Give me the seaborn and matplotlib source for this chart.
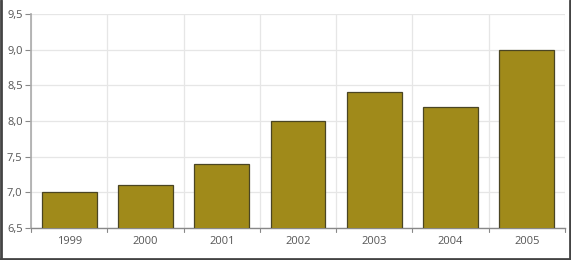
import matplotlib
matplotlib.use("Agg")
import matplotlib.pyplot as plt
import seaborn as sns
import pandas as pd
from matplotlib.lines import Line2D

years = ["1999", "2000", "2001", "2002", "2003", "2004", "2005"]
values = [7.0, 7.1, 7.4, 8.0, 8.4, 8.2, 9.0]
yticks = [6.5, 7.0, 7.5, 8.0, 8.5, 9.0, 9.5]
ytick_labels = ["6,5", "7,0", "7,5", "8,0", "8,5", "9,0", "9,5"]

sns.set_theme(style="white")
plt.rcParams['font.family'] = ['Open Sans', 'DejaVu Sans']

df = pd.DataFrame({"year": years, "value": values})

fig = plt.figure(figsize=(5.71, 2.6), dpi=100)
ax = fig.add_axes([31/571, 1 - 228/260, (565-31)/571, (228-14)/260])

sns.barplot(data=df, x="year", y="value", ax=ax, color="#A08A1A", saturation=1,
            width=0.72, edgecolor="#4a4523", linewidth=0.9, zorder=3)

ax.set_ylim(6.5, 9.5)
ax.set_xlim(-0.5, len(years) - 0.5)
ax.set_yticks(yticks)
ax.set_yticklabels(ytick_labels)
ax.set_xlabel("")
ax.set_ylabel("")

# grid
for y in yticks:
    ax.axhline(y, color="#e6e6e6", linewidth=0.9, zorder=0)
for i in range(len(years) + 1):
    ax.axvline(i - 0.5, color="#e6e6e6", linewidth=0.9, zorder=0)

for s in ["top", "right"]:
    ax.spines[s].set_visible(False)
ax.spines["left"].set_color("#aaaaaa")
ax.spines["left"].set_linewidth(1.2)
ax.spines["bottom"].set_color("#888888")
ax.spines["bottom"].set_linewidth(1.0)

ax.tick_params(axis="y", labelsize=8, colors="#555555", length=4, width=0.8, direction="out", pad=2, left=True)
ax.tick_params(axis="x", labelsize=8, colors="#555555", length=0, pad=6)
ax.tick_params(axis="y", color="#888888")

# ticks at category boundaries on the x-axis
for i in range(len(years) + 1):
    ax.plot([i - 0.5, i - 0.5], [0, -0.02], transform=ax.get_xaxis_transform(),
            color="#888888", linewidth=0.8, clip_on=False)

# figure border (left, right, bottom)
border = "#444444"
fig.add_artist(Line2D([1/571, 1/571], [0, 1], transform=fig.transFigure, color=border, linewidth=2))
fig.add_artist(Line2D([569.5/571, 569.5/571], [0, 1], transform=fig.transFigure, color=border, linewidth=2))
fig.add_artist(Line2D([0, 1], [1.5/260, 1.5/260], transform=fig.transFigure, color=border, linewidth=2))

fig.savefig("out.png", dpi=100)
